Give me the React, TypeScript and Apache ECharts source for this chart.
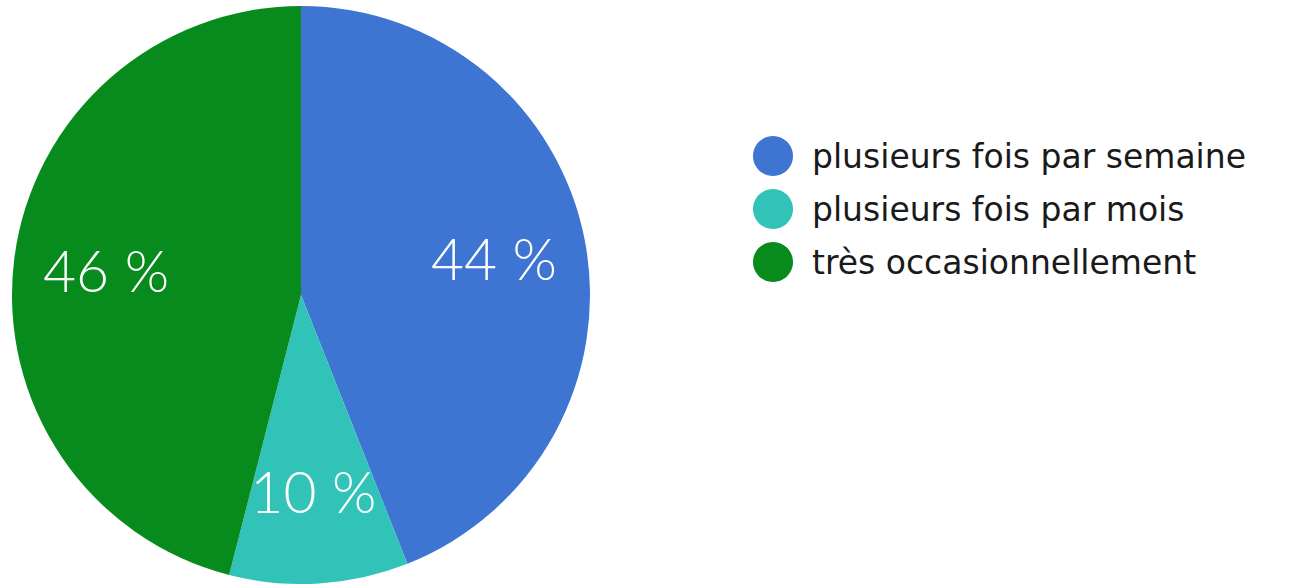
import React, { useEffect, useRef } from "react";
import * as echarts from "echarts";

const categories = ["plusieurs fois par semaine", "plusieurs fois par mois", "très occasionnellement"];
const values = [44, 10, 46];
const colors = ["#3e74d2", "#31c3b8", "#078b1d"];

export default function App() {
  const ref = useRef<HTMLDivElement>(null);
  useEffect(() => {
    document.body.style.margin = "0";
    const chart = echarts.init(ref.current!, null, { renderer: "svg" });
    const data = categories.map((name, i) => ({ name, value: values[i], itemStyle: { color: colors[i] } }));
    chart.setOption({
      animation: false,
      backgroundColor: "#ffffff",
      legend: {
        orient: "vertical",
        left: 748,
        top: 131,
        icon: "circle",
        itemWidth: 40,
        itemHeight: 40,
        itemGap: 13,
        data: categories,
        textStyle: { fontFamily: "DejaVu Sans", fontSize: 33, color: "#1a1a1a", padding: [0, 0, 0, 14] },
        selectedMode: false,
      },
      series: [
        {
          type: "pie",
          center: [301, 295],
          radius: [0, 289],
          startAngle: 90,
          clockwise: true,
          label: { show: false },
          labelLine: { show: false },
          data,
          silent: true,
        },
        {
          type: "pie",
          center: [301, 295],
          radius: [98, 289],
          startAngle: 90,
          clockwise: true,
          itemStyle: { color: "transparent" },
          label: {
            show: true,
            position: "inside",
            formatter: (p: any) => `${p.value} %`,
            color: "#ffffff",
            fontFamily: "Lato",
            fontWeight: 300,
            fontSize: 57,
          },
          labelLine: { show: false },
          data: categories.map((name, i) => ({ name, value: values[i], itemStyle: { color: "transparent" } })),
          silent: true,
          legendHoverLink: false,
        },
      ],
    });
    return () => chart.dispose();
  }, []);
  return <div ref={ref} style={{ width: 1293, height: 586 }} />;
}
